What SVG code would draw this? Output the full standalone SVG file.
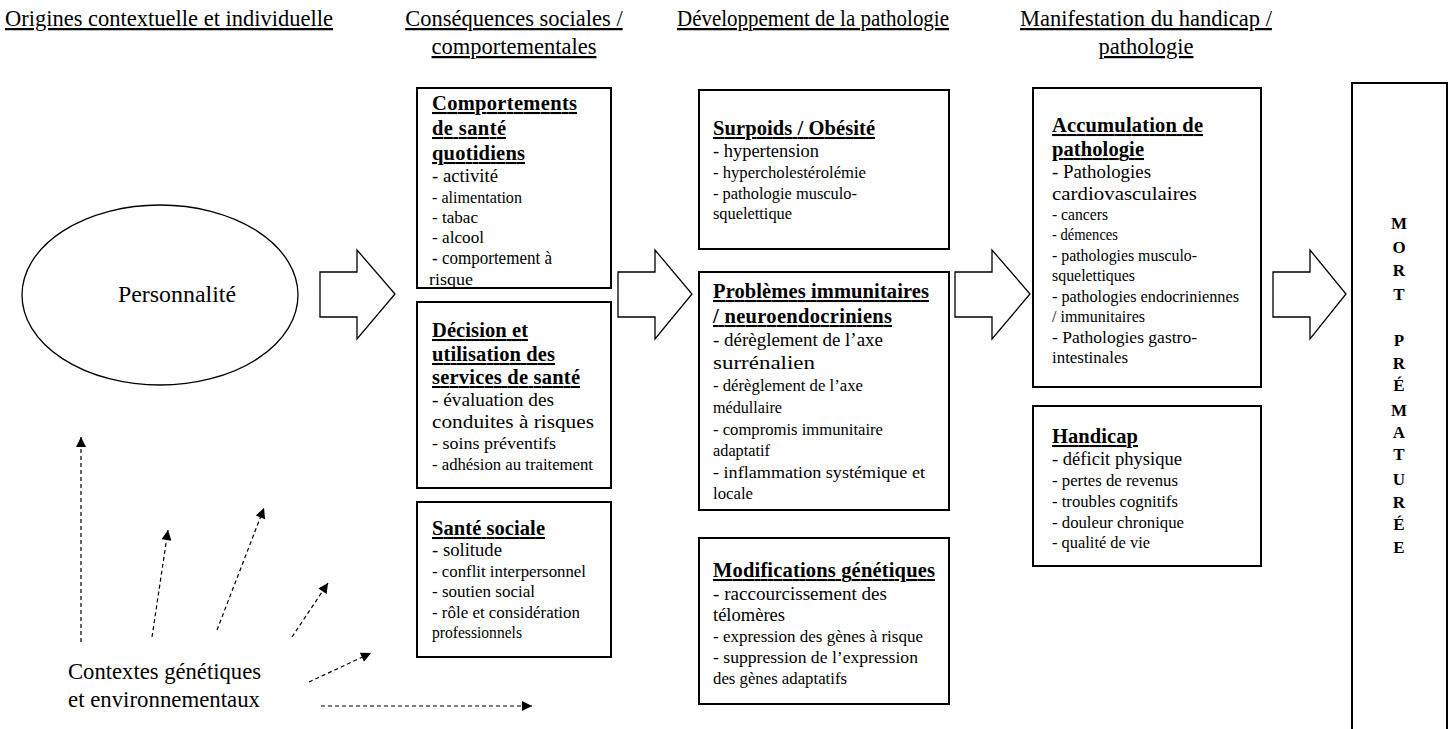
<svg xmlns="http://www.w3.org/2000/svg" width="1450" height="729" viewBox="0 0 1450 729" font-family="'Liberation Serif', 'Times New Roman', serif">
<style>
text{font-family:"Liberation Serif","Times New Roman",serif;fill:#000}
.box{fill:#fff;stroke:#000;stroke-width:2}
.bar{fill:#fff;stroke:#000;stroke-width:1.3}
.hd{font-size:22.5px;text-decoration:underline}
.h{font-size:20.5px;font-weight:bold;text-decoration:underline}
.l{font-size:18.5px}
.s{font-size:16.5px}
.big{font-size:23px}
.mort{font-size:17px;font-weight:bold;text-anchor:middle}
.dash{fill:none;stroke:#000;stroke-width:1.2;stroke-dasharray:4 3;marker-end:url(#ah)}
</style>
<defs>
<marker id="ah" viewBox="0 0 10 10" refX="10" refY="5" markerWidth="12" markerHeight="10" markerUnits="userSpaceOnUse" orient="auto"><path d="M0,0 L10,5 L0,10z" fill="#000"/></marker>
</defs>
<rect width="1450" height="729" fill="#fff"/>

<g id="headers">
<text class="hd" x="5" y="26">Origines contextuelle et individuelle</text>
<text class="hd" x="514" y="26" text-anchor="middle">Conséquences sociales /</text>
<text class="hd" x="514" y="54" text-anchor="middle">comportementales</text>
<text class="hd" x="677" y="26" textLength="272" lengthAdjust="spacingAndGlyphs">Développement de la pathologie</text>
<text class="hd" x="1146" y="26" text-anchor="middle">Manifestation du handicap /</text>
<text class="hd" x="1146" y="54" text-anchor="middle">pathologie</text>
</g>

<g id="personnalite">
<ellipse cx="160" cy="295" rx="138" ry="90" fill="#fff" stroke="#000" stroke-width="1.3"/>
<text class="big" x="118" y="302" textLength="118" lengthAdjust="spacingAndGlyphs">Personnalité</text>
</g>

<g id="contextes">
<text class="big" x="68" y="679" textLength="193" lengthAdjust="spacingAndGlyphs">Contextes génétiques</text>
<text class="big" x="68" y="707" textLength="192" lengthAdjust="spacingAndGlyphs">et environnementaux</text>
</g>

<g id="connectors">
<polygon class="bar" points="320,272 357,272 357,250 395,294 357,339 357,317 320,317"/>
<polygon class="bar" points="618,272 655,272 655,250 692,294 655,339 655,317 618,317"/>
<polygon class="bar" points="955,272 992,272 992,250 1030,294 992,339 992,317 955,317"/>
<polygon class="bar" points="1273,272 1310,272 1310,250 1346,294 1310,339 1310,317 1273,317"/>
<line class="dash" x1="81" y1="642" x2="81" y2="437"/>
<line class="dash" x1="152" y1="637" x2="168" y2="530"/>
<line class="dash" x1="217" y1="630" x2="264" y2="508"/>
<line class="dash" x1="292" y1="637" x2="328" y2="583"/>
<line class="dash" x1="309" y1="682" x2="371" y2="653"/>
<line class="dash" x1="321" y1="706" x2="532" y2="706"/>
</g>

<g id="comportements">
<rect class="box" x="417" y="88" width="194" height="200"/>
<text class="h" x="432" y="110" textLength="145" lengthAdjust="spacing">Comportements</text>
<text class="h" x="432" y="135" textLength="74" lengthAdjust="spacing">de santé</text>
<text class="h" x="432" y="160" textLength="93" lengthAdjust="spacing">quotidiens</text>
<text class="l" x="432" y="182" textLength="66" lengthAdjust="spacingAndGlyphs">- activité</text>
<text class="s" x="432" y="203" textLength="90" lengthAdjust="spacingAndGlyphs">- alimentation</text>
<text class="s" x="432" y="223" textLength="46" lengthAdjust="spacingAndGlyphs">- tabac</text>
<text class="s" x="432" y="243" textLength="52" lengthAdjust="spacingAndGlyphs">- alcool</text>
<text class="l" x="432" y="264" textLength="120" lengthAdjust="spacingAndGlyphs">- comportement à</text>
<text class="s" x="429" y="285" textLength="44" lengthAdjust="spacingAndGlyphs">risque</text>
</g>

<g id="decision">
<rect class="box" x="417" y="302" width="194" height="186"/>
<text class="h" x="432" y="337" textLength="96" lengthAdjust="spacing">Décision et</text>
<text class="h" x="432" y="361" textLength="123" lengthAdjust="spacing">utilisation des</text>
<text class="h" x="432" y="384" textLength="148" lengthAdjust="spacing">services de santé</text>
<text class="l" x="432" y="406" textLength="122" lengthAdjust="spacingAndGlyphs">- évaluation des</text>
<text class="l" x="432" y="428" textLength="162" lengthAdjust="spacingAndGlyphs">conduites à risques</text>
<text class="s" x="432" y="449" textLength="124" lengthAdjust="spacingAndGlyphs">- soins préventifs</text>
<text class="s" x="432" y="470" textLength="161" lengthAdjust="spacingAndGlyphs">- adhésion au traitement</text>
</g>

<g id="sante-sociale">
<rect class="box" x="417" y="502" width="194" height="155"/>
<text class="h" x="432" y="535" textLength="113" lengthAdjust="spacing">Santé sociale</text>
<text class="l" x="432" y="556" textLength="70" lengthAdjust="spacingAndGlyphs">- solitude</text>
<text class="s" x="432" y="577" textLength="154" lengthAdjust="spacingAndGlyphs">- conflit interpersonnel</text>
<text class="s" x="432" y="597" textLength="103" lengthAdjust="spacingAndGlyphs">- soutien social</text>
<text class="s" x="432" y="618" textLength="148" lengthAdjust="spacingAndGlyphs">- rôle et considération</text>
<text class="s" x="432" y="638" textLength="90" lengthAdjust="spacingAndGlyphs">professionnels</text>
</g>

<g id="surpoids">
<rect class="box" x="699" y="90" width="250" height="159"/>
<text class="h" x="713" y="135" textLength="162" lengthAdjust="spacing">Surpoids / Obésité</text>
<text class="l" x="713" y="157" textLength="106" lengthAdjust="spacingAndGlyphs">- hypertension</text>
<text class="s" x="713" y="178" textLength="153" lengthAdjust="spacingAndGlyphs">- hypercholestérolémie</text>
<text class="s" x="713" y="199" textLength="144" lengthAdjust="spacingAndGlyphs">- pathologie musculo-</text>
<text class="s" x="713" y="219" textLength="79" lengthAdjust="spacingAndGlyphs">squelettique</text>
</g>

<g id="immunitaires">
<rect class="box" x="699" y="272" width="250" height="238"/>
<text class="h" x="713" y="298" textLength="216" lengthAdjust="spacing">Problèmes immunitaires</text>
<text class="h" x="713" y="323" textLength="179" lengthAdjust="spacing">/ neuroendocriniens</text>
<text class="l" x="713" y="346" textLength="170" lengthAdjust="spacingAndGlyphs">- dérèglement de l’axe</text>
<text class="l" x="713" y="369" textLength="102" lengthAdjust="spacingAndGlyphs">surrénalien</text>
<text class="s" x="713" y="391" textLength="150" lengthAdjust="spacingAndGlyphs">- dérèglement de l’axe</text>
<text class="s" x="713" y="413" textLength="69" lengthAdjust="spacingAndGlyphs">médullaire</text>
<text class="s" x="713" y="435" textLength="170" lengthAdjust="spacingAndGlyphs">- compromis immunitaire</text>
<text class="s" x="713" y="456" textLength="57" lengthAdjust="spacingAndGlyphs">adaptatif</text>
<text class="s" x="713" y="478" textLength="212" lengthAdjust="spacingAndGlyphs">- inflammation  systémique et</text>
<text class="s" x="713" y="499" textLength="40" lengthAdjust="spacingAndGlyphs">locale</text>
</g>

<g id="genetiques">
<rect class="box" x="699" y="538" width="250" height="166"/>
<text class="h" x="713" y="577" textLength="222" lengthAdjust="spacing">Modifications génétiques</text>
<text class="l" x="713" y="600" textLength="174" lengthAdjust="spacingAndGlyphs">- raccourcissement des</text>
<text class="l" x="713" y="621" textLength="72" lengthAdjust="spacingAndGlyphs">télomères</text>
<text class="s" x="713" y="642" textLength="210" lengthAdjust="spacingAndGlyphs">- expression des gènes à risque</text>
<text class="s" x="713" y="663" textLength="205" lengthAdjust="spacingAndGlyphs">- suppression de l’expression</text>
<text class="s" x="713" y="684" textLength="134" lengthAdjust="spacingAndGlyphs">des gènes adaptatifs</text>
</g>

<g id="accumulation">
<rect class="box" x="1033" y="88" width="228" height="299"/>
<text class="h" x="1052" y="132" textLength="151" lengthAdjust="spacing">Accumulation de</text>
<text class="h" x="1052" y="156" textLength="92" lengthAdjust="spacing">pathologie</text>
<text class="l" x="1052" y="178" textLength="99" lengthAdjust="spacingAndGlyphs">- Pathologies</text>
<text class="l" x="1052" y="200" textLength="145" lengthAdjust="spacingAndGlyphs">cardiovasculaires</text>
<text class="s" x="1052" y="220" textLength="56" lengthAdjust="spacingAndGlyphs">- cancers</text>
<text class="s" x="1052" y="240" textLength="66" lengthAdjust="spacingAndGlyphs">- démences</text>
<text class="s" x="1052" y="261" textLength="145" lengthAdjust="spacingAndGlyphs">- pathologies musculo-</text>
<text class="s" x="1052" y="281" textLength="83" lengthAdjust="spacingAndGlyphs">squelettiques</text>
<text class="s" x="1052" y="302" textLength="187" lengthAdjust="spacingAndGlyphs">- pathologies endocriniennes</text>
<text class="s" x="1052" y="322" textLength="93" lengthAdjust="spacingAndGlyphs">/ immunitaires</text>
<text class="s" x="1052" y="343" textLength="145" lengthAdjust="spacingAndGlyphs">- Pathologies gastro-</text>
<text class="s" x="1052" y="363" textLength="76" lengthAdjust="spacingAndGlyphs">intestinales</text>
</g>

<g id="handicap">
<rect class="box" x="1033" y="406" width="228" height="160"/>
<text class="h" x="1052" y="443" textLength="86" lengthAdjust="spacing">Handicap</text>
<text class="l" x="1052" y="465" textLength="130" lengthAdjust="spacingAndGlyphs">- déficit physique</text>
<text class="s" x="1052" y="486" textLength="126" lengthAdjust="spacingAndGlyphs">- pertes de revenus</text>
<text class="s" x="1052" y="507" textLength="126" lengthAdjust="spacingAndGlyphs">- troubles cognitifs</text>
<text class="s" x="1052" y="528" textLength="132" lengthAdjust="spacingAndGlyphs">- douleur chronique</text>
<text class="s" x="1052" y="548" textLength="98" lengthAdjust="spacingAndGlyphs">- qualité  de vie</text>
</g>

<g id="mort">
<rect class="box" x="1352" y="83" width="95" height="660"/>
<text class="mort" x="1399" y="229">M</text>
<text class="mort" x="1399" y="253">O</text>
<text class="mort" x="1399" y="276">R</text>
<text class="mort" x="1399" y="300">T</text>
<text class="mort" x="1399" y="346">P</text>
<text class="mort" x="1399" y="369">R</text>
<text class="mort" x="1399" y="391">É</text>
<text class="mort" x="1399" y="416">M</text>
<text class="mort" x="1399" y="438">A</text>
<text class="mort" x="1399" y="460">T</text>
<text class="mort" x="1399" y="485">U</text>
<text class="mort" x="1399" y="508">R</text>
<text class="mort" x="1399" y="530">É</text>
<text class="mort" x="1399" y="553">E</text>
</g>
</svg>
